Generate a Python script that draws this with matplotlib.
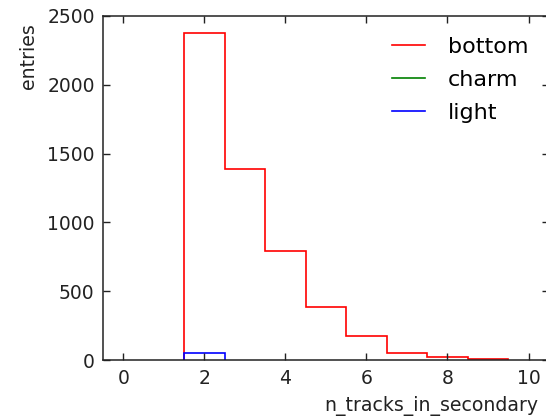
import numpy as np
import matplotlib
matplotlib.use("Agg")
import matplotlib.pyplot as plt

# Histogram of the number of tracks in the secondary vertex, per jet flavour
bin_edges = [1.5, 2.5, 3.5, 4.5, 5.5, 6.5, 7.5, 8.5, 9.5]
bottom_counts = [2372, 1390, 794, 386, 174, 52, 27, 10]
charm_counts = []
light_edges = [1.5, 2.5]
light_counts = [52]

x_ticks = [0, 2, 4, 6, 8, 10]
y_ticks = [0, 500, 1000, 1500, 2000, 2500]

plt.rcParams['font.family'] = ['DejaVu Sans']

fig = plt.figure(figsize=(5.46, 4.19), dpi=100)
fig.patch.set_facecolor('white')
ax_w, ax_h = 445.8, 344.6
ax = fig.add_axes([103 / 546, 1 - 360.3 / 419, ax_w / 546, ax_h / 419])

ax.stairs(bottom_counts, bin_edges, color='r', lw=1.2, label='bottom', baseline=0)
if len(charm_counts):
    ax.stairs(charm_counts, bin_edges[:len(charm_counts) + 1], color='g', lw=1.2, label='charm')
else:
    ax.plot([], [], color='g', lw=1.2, label='charm')
ax.stairs(light_counts, light_edges, color='b', lw=1.2, label='light', baseline=0)

ax.set_xlim(-0.5, 10.5)
ax.set_ylim(0, 2500)
ax.set_xticks(x_ticks)
ax.set_yticks(y_ticks)
ax.tick_params(direction='in', top=True, right=True, length=5, width=1,
               labelsize=13.5, pad=6, colors='#222222', labelcolor='#222222')
for s in ax.spines.values():
    s.set_color('#222222')
    s.set_linewidth(1.1)

ax.set_xlabel('n_tracks_in_secondary', fontsize=13.6, ha='right', color='#222222')
ax.xaxis.set_label_coords((538 - 103) / ax_w, -(396 - 360.3) / ax_h)
ax.set_ylabel('entries', fontsize=13.6, ha='right', color='#222222')
ax.yaxis.set_label_coords(-(103 - 38) / ax_w, 1 - (23 - 15.7) / ax_h)

leg = ax.legend(loc='upper right', bbox_to_anchor=((528 - 103) / ax_w, 1 - (37 - 15.7) / ax_h),
                frameon=False, fontsize=16, handlelength=1.5, handletextpad=1.0,
                labelspacing=0.58, borderpad=0, borderaxespad=0)

fig.savefig('out.png', dpi=100, facecolor='white')
